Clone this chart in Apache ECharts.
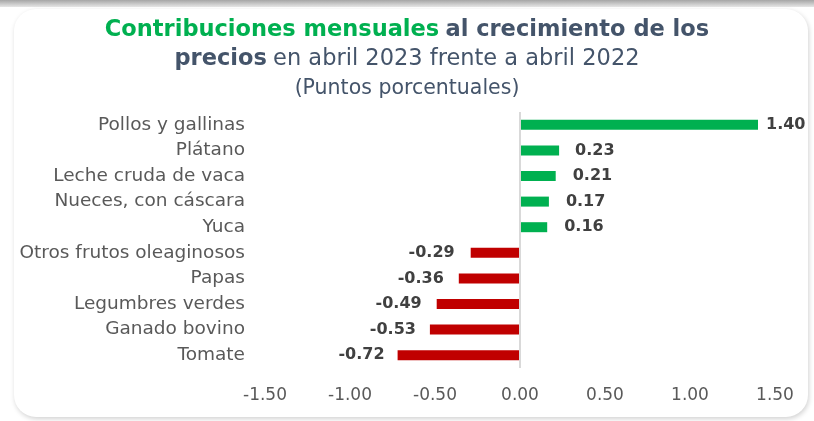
<!DOCTYPE html>
<html>
<head>
<meta charset="utf-8">
<script src="https://cdn.jsdelivr.net/npm/echarts@6/dist/echarts.min.js"></script>
<style>
  html, body { margin: 0; padding: 0; background: #ffffff; }
  #topband {
    position: absolute; left: 0; top: 0; width: 814px; height: 7px;
    background: linear-gradient(#a6a6a6, #e6e6e6);
  }
  #card {
    position: absolute; left: 14px; top: 9px; width: 794px; height: 408px;
    background: #fff; border-radius: 22px;
    box-shadow: 1px 2px 5px rgba(0,0,0,0.18);
  }
  #chart { position: absolute; left: 0; top: 0; width: 814px; height: 421px; }
</style>
</head>
<body>
<div id="topband"></div>
<div id="card"></div>
<div id="chart"></div>
<script>
  // datos (puntos porcentuales)
  const categorias = ['Pollos y gallinas', 'Plátano', 'Leche cruda de vaca', 'Nueces, con cáscara', 'Yuca',
    'Otros frutos oleaginosos', 'Papas', 'Legumbres verdes', 'Ganado bovino', 'Tomate'];
  const valores = [1.40, 0.23, 0.21, 0.17, 0.16, -0.29, -0.36, -0.49, -0.53, -0.72];
  const ticks = [-1.5, -1.0, -0.5, 0, 0.5, 1.0, 1.5];

  const fuente = '"DejaVu Sans", "Open Sans", sans-serif';
  const chart = echarts.init(document.getElementById('chart'));

  // etiquetas: las barras largas llevan la cifra un poco más pegada
  const barras = valores.map(function (v) {
    return {
      value: v,
      itemStyle: { color: v >= 0 ? '#00B050' : '#C00000' },
      label: {
        position: v >= 0 ? 'right' : 'left',
        distance: Math.round(18 - 7 * Math.abs(v))
      }
    };
  });

  chart.setOption({
    textStyle: { fontFamily: fuente },
    title: {
      left: 'center',
      top: 11,
      text: '{g|Contribuciones mensuales} {b|al crecimiento de los}\n{b|precios} {n|en abril 2023 frente a abril 2022}\n{s|(Puntos porcentuales)}',
      textStyle: {
        fontFamily: fuente,
        lineHeight: 29,
        rich: {
          g: { color: '#00B050', fontWeight: 'bold', fontSize: 22.5, lineHeight: 29, fontFamily: fuente },
          b: { color: '#44546A', fontWeight: 'bold', fontSize: 22.5, lineHeight: 29, fontFamily: fuente },
          n: { color: '#44546A', fontWeight: 'normal', fontSize: 22.5, lineHeight: 29, fontFamily: fuente },
          s: { color: '#44546A', fontWeight: 'normal', fontSize: 20.5, lineHeight: 29, fontFamily: fuente }
        }
      }
    },
    grid: { left: 265, right: 39, top: 112, bottom: 53 },
    xAxis: {
      type: 'value',
      min: ticks[0],
      max: ticks[ticks.length - 1],
      interval: 0.5,
      axisLine: { show: false },
      axisTick: { show: false },
      splitLine: { show: false },
      axisLabel: {
        margin: 19,
        fontSize: 17,
        color: '#595959',
        fontFamily: fuente,
        formatter: function (v) { return v.toFixed(2); }
      }
    },
    yAxis: {
      type: 'category',
      inverse: true,
      data: categorias,
      axisLine: { show: false },
      axisTick: { show: false },
      axisLabel: { margin: 20, fontSize: 18.5, color: '#595959', fontFamily: fuente }
    },
    series: [{
      type: 'bar',
      data: barras,
      barWidth: 10,
      label: {
        show: true,
        fontSize: 16,
        fontWeight: 'bold',
        color: '#404040',
        fontFamily: fuente,
        formatter: function (p) { return p.value.toFixed(2); }
      },
      markLine: {
        silent: true,
        symbol: 'none',
        label: { show: false },
        lineStyle: { color: '#D9D9D9', width: 2, type: 'solid' },
        data: [{ xAxis: 0 }]
      }
    }]
  });
</script>
</body>
</html>
